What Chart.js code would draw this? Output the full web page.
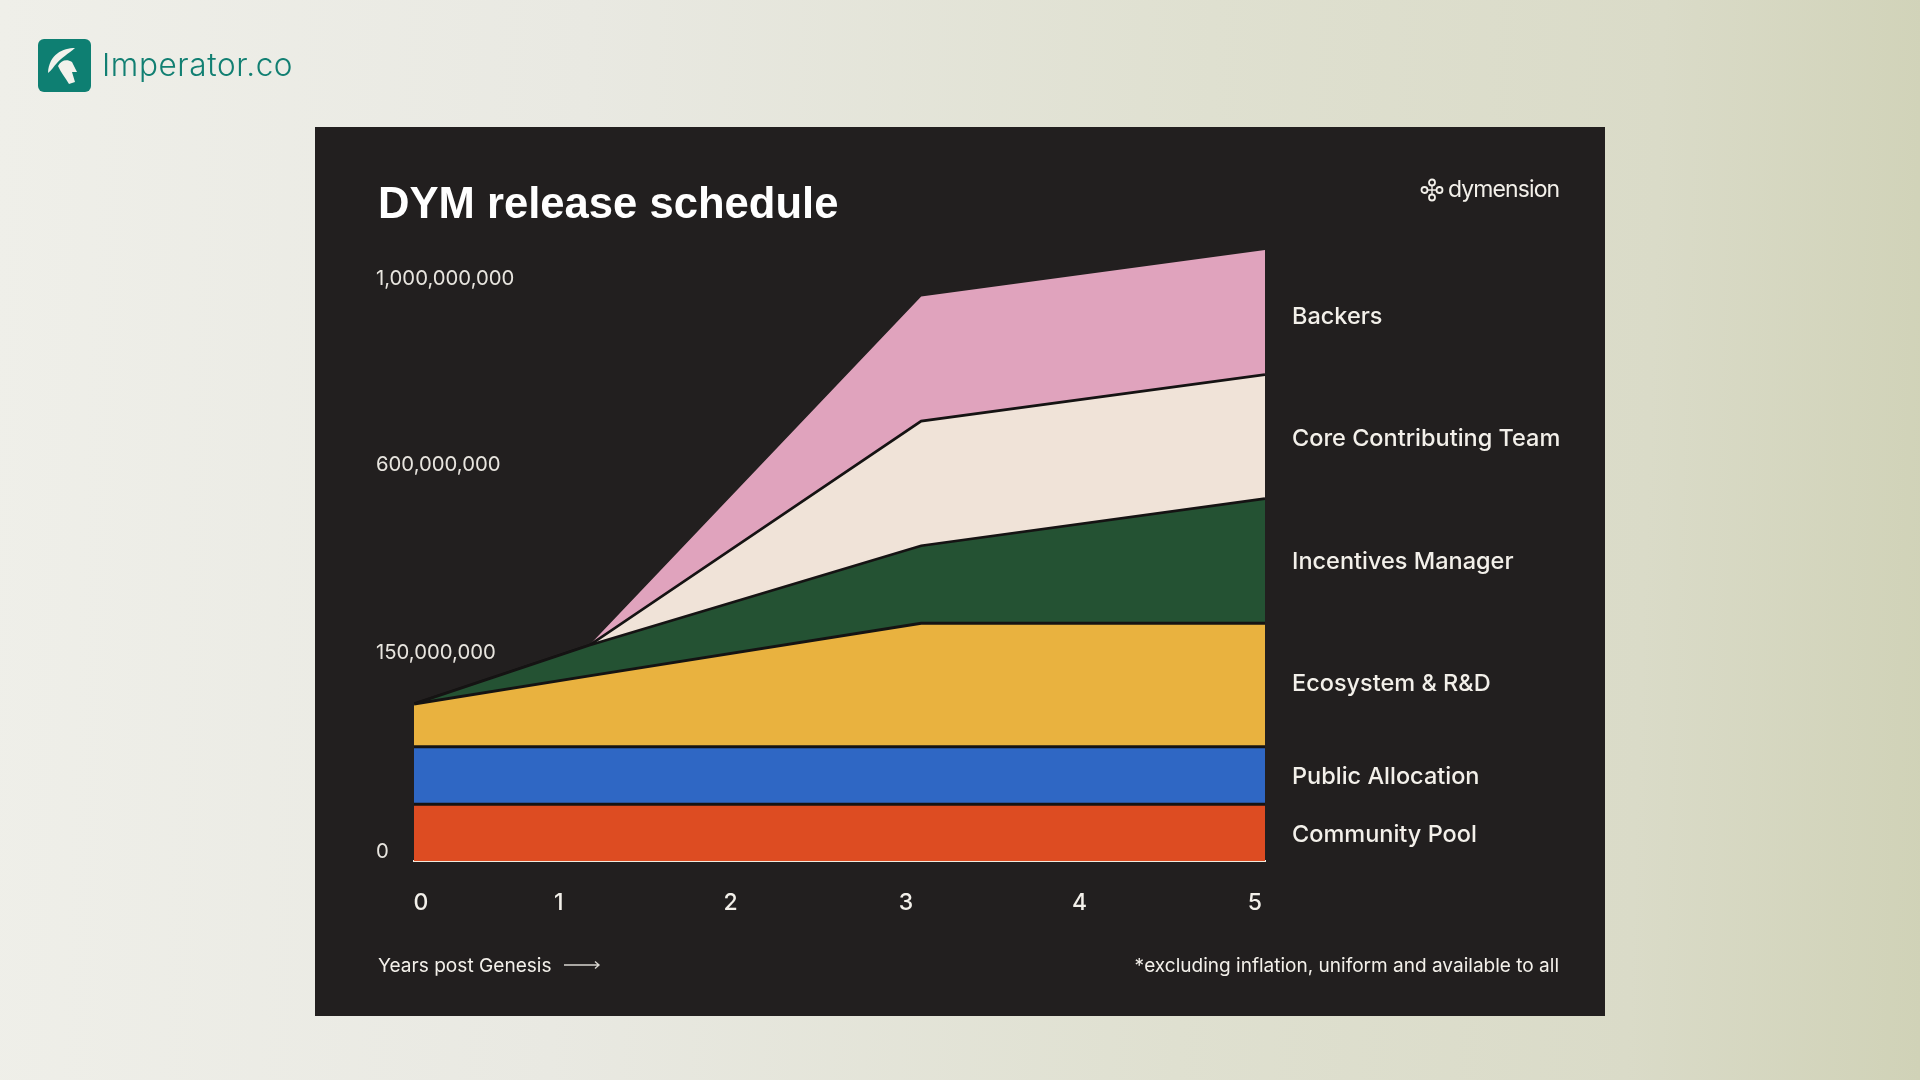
<!DOCTYPE html>
<html>
<head>
<meta charset="utf-8">
<title>DYM release schedule</title>
<script src="https://cdn.jsdelivr.net/npm/chart.js@4"></script>
<style>
  html, body { margin: 0; padding: 0; width: 1920px; height: 1080px; overflow: hidden; }
  body {
    position: relative;
    font-family: Inter, sans-serif;
    background: linear-gradient(92deg, #efefe9 0%, #e9e9e2 30%, #dfe0d0 62%, #dadbc8 85%, #d0d2b7 100%);
  }
  #panel { position: absolute; left: 315px; top: 127px; width: 1290px; height: 889px; background: #221f1f; }
  #chart { position: absolute; left: 0; top: 0; }
  .txt { position: absolute; line-height: 1; white-space: nowrap; transform: translateY(-50%); color: #f3f0ea; }
  #brand { left: 102px; top: 65px; font-size: 31.5px; font-weight: 300; color: #117f72; letter-spacing: 0.6px; }
  #title { left: 378px; top: 203px; font: 700 43.6px "Liberation Sans", sans-serif; color: #fff; }
  #dym { left: 1448px; top: 189px; font-size: 23px; font-weight: 400; letter-spacing: -0.9px; }
  #years { left: 378px; top: 966px; font-size: 19.1px; }
  #note { right: 361px; top: 966px; font-size: 19.05px; }
  .series { left: 1292px; font-size: 23.5px; font-weight: 500; }
  svg { position: absolute; }
</style>
</head>
<body>
<div id="panel"></div>
<canvas id="chart" width="1920" height="1080"></canvas>

<svg style="left:38px;top:39px" width="53" height="53" viewBox="0 0 53 53">
  <rect width="53" height="53" rx="6" fill="#0e7f72"/>
  <path d="M37 9 C25 9 11 15 10 34 C13 32 16 27 19 24 C23 19 30 15 37 9 Z" fill="#f2f2ec"/>
  <path d="M20 27 C23 21 29 20 34 23 L39 33 L34 33 L37 43 L31 45 C27 38 23 34 20 27 Z" fill="#f2f2ec"/>
</svg>
<div class="txt" id="brand">Imperator.co</div>

<div class="txt" id="title">DYM release schedule</div>

<svg style="left:1420px;top:178px" width="24" height="24" viewBox="0 0 24 24" fill="none" stroke="#f3f0ea" stroke-width="1.8">
  <circle cx="12" cy="4.5" r="3"/><circle cx="12" cy="19.5" r="3"/>
  <circle cx="4.5" cy="12" r="3"/><circle cx="19.5" cy="12" r="3"/>
  <path d="M7.5 12 H16.5 M12 7.5 V16.5" stroke-width="1.4"/>
</svg>
<div class="txt" id="dym">dymension</div>

<div class="txt" id="years">Years post Genesis</div>
<svg style="left:563px;top:958px" width="38" height="14" viewBox="0 0 38 14" fill="none" stroke="#d8d5cf" stroke-width="1.4">
  <path d="M1 7 H36 M32 3.5 L36 7 L32 10.5"/>
</svg>
<div class="txt" id="note">*excluding inflation, uniform and available to all</div>

<script>
// x: years after genesis, as read on the band corners
const xYears = [0, 1.03, 2.98, 5];

// band thickness at each x, in millions of tokens, bottom band first
const communityPool = [93, 93, 93, 93];
const publicAllocation = [94, 94, 94, 94];
const ecosystem = [70, 116, 202, 202];
const incentives = [0, 50, 127, 204];
const coreTeam = [0, 0, 204, 203];
const backers = [0, 0, 204, 204];

const seriesNames = ['Community Pool', 'Public Allocation', 'Ecosystem & R&D', 'Incentives Manager', 'Core Contributing Team', 'Backers'];
const seriesValues = [communityPool, publicAllocation, ecosystem, incentives, coreTeam, backers];
const seriesColors = ['#dd4c22', '#2f67c4', '#e9b23f', '#245233', '#f0e3d8', '#e0a3bd'];
const seriesLineWidths = [3, 3, 3, 2.7, 2.7, 0];
const seriesLabelY = [834, 776, 683, 561, 438, 316];

// the picture's tick labels are not spaced in proportion to what they say,
// nor do they sit under the corners, so ticks go where the picture has them
const xTickValues = [0.04, 0.85, 1.86, 2.89, 3.91, 4.94];
const xTickLabels = ['0', '1', '2', '3', '4', '5'];
const yTickValues = [15, 340, 648, 953];
const yTickLabels = ['0', '150,000,000', '600,000,000', '1,000,000,000'];

const separator = '#151313';

seriesNames.forEach((name, i) => {
  const el = document.createElement('div');
  el.className = 'txt series';
  el.textContent = name;
  el.style.top = seriesLabelY[i] + 'px';
  document.body.appendChild(el);
});

const datasets = seriesNames.map((name, i) => ({
  label: name,
  data: xYears.map((x, j) => ({ x: x, y: seriesValues[i][j] })),
  backgroundColor: seriesColors[i],
  borderColor: separator,
  borderWidth: seriesLineWidths[i],
  fill: i === 0 ? 'origin' : '-1',
  pointRadius: 0,
  tension: 0,
}));

new Chart(document.getElementById('chart').getContext('2d'), {
  type: 'line',
  data: { datasets: datasets },
  options: {
    responsive: false,
    animation: false,
    layout: { padding: { left: 376, right: 655, top: 250, bottom: 159 } },
    plugins: { legend: { display: false }, tooltip: { enabled: false } },
    scales: {
      x: {
        type: 'linear',
        min: 0,
        max: 5,
        grid: { display: false },
        border: { display: true, color: '#f0e9dd', width: 2 },
        afterBuildTicks: (s) => { s.ticks = xTickValues.map((v) => ({ value: v })); },
        afterFit: (s) => { s.height = 60; },
        ticks: {
          autoSkip: false,
          maxRotation: 0,
          padding: 20,
          color: '#f3f0ea',
          font: { family: 'Inter', size: 23, weight: '500' },
          callback: (v, i) => xTickLabels[i],
        },
      },
      y: {
        stacked: true,
        min: 0,
        max: 1000,
        grid: { display: false },
        border: { display: false },
        afterBuildTicks: (s) => { s.ticks = yTickValues.map((v) => ({ value: v })); },
        afterFit: (s) => { s.width = 38; },
        ticks: {
          autoSkip: false,
          mirror: true, // mirrored labels are not clipped to the narrow axis box
          padding: -38,
          color: '#e8e5df',
          font: { family: 'Inter', size: 20.3, weight: '400' },
          callback: (v, i) => yTickLabels[i],
        },
      },
    },
  },
});
</script>
</body>
</html>
